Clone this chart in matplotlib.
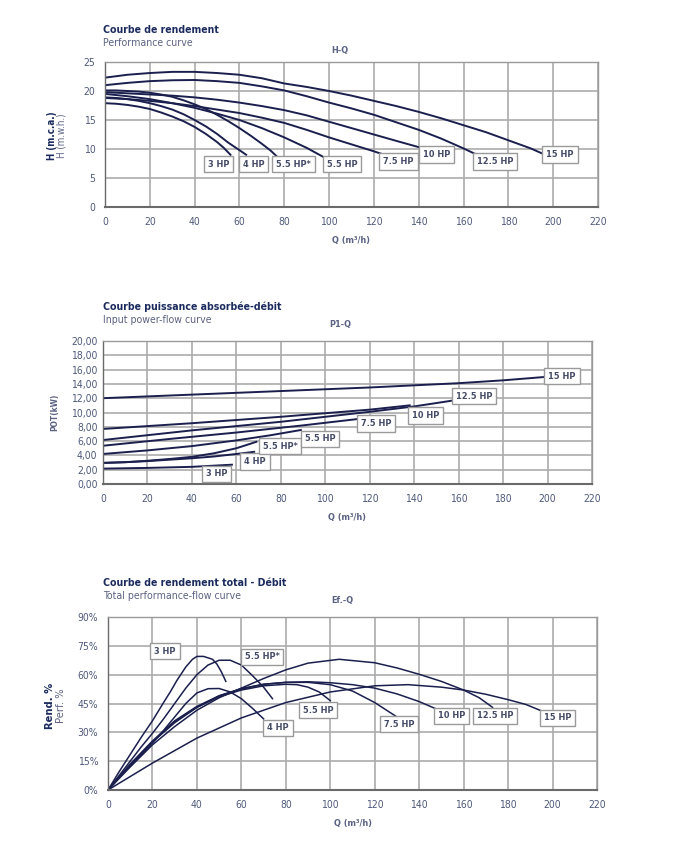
import matplotlib
matplotlib.use("Agg")
import matplotlib.pyplot as plt
from matplotlib.ticker import FuncFormatter, MultipleLocator

# ============================================================
# DATA
# ============================================================

# H-Q curves: flow Q (m3/h) -> head H (m)
hq_3hp_q = [0, 5, 10, 15, 20, 25, 30, 35, 40, 45, 50, 53, 56]
hq_3hp_h = [17.9, 17.8, 17.6, 17.3, 16.9, 16.3, 15.6, 14.8, 13.8, 12.6, 11.2, 10.2, 9.0]
hq_4hp_q = [0, 5, 10, 15, 20, 25, 30, 35, 40, 45, 50, 55, 60, 63]
hq_4hp_h = [18.9, 18.8, 18.6, 18.3, 17.9, 17.4, 16.8, 16.0, 15.0, 13.9, 12.6, 11.1, 9.8, 9.0]
hq_55s_q = [0, 5, 10, 15, 20, 25, 30, 35, 40, 45, 50, 55, 60, 65, 70, 74, 77]
hq_55s_h = [20.1, 20.1, 20.0, 19.9, 19.7, 19.4, 19.0, 18.4, 17.7, 16.9, 15.9, 14.8, 13.6, 12.3, 10.9, 9.7, 8.6]
hq_55_q = [0, 10, 20, 30, 40, 50, 60, 70, 80, 90, 99]
hq_55_h = [19.5, 19.1, 18.6, 17.9, 17.1, 16.1, 15.0, 13.6, 12.0, 10.2, 8.3]
hq_75_q = [0, 10, 20, 30, 40, 50, 60, 70, 80, 90, 100, 110, 120, 127]
hq_75_h = [18.8, 18.6, 18.3, 17.9, 17.4, 16.8, 16.2, 15.4, 14.5, 13.3, 12.0, 10.8, 9.6, 8.7]
hq_10_q = [0, 10, 20, 30, 40, 50, 60, 70, 80, 90, 100, 110, 120, 130, 143]
hq_10_h = [19.8, 19.6, 19.4, 19.2, 18.9, 18.5, 18.0, 17.4, 16.7, 15.8, 14.7, 13.6, 12.5, 11.4, 10.0]
hq_125_q = [0, 10, 20, 30, 40, 50, 60, 70, 80, 90, 100, 110, 120, 130, 140, 150, 160, 166]
hq_125_h = [21.0, 21.4, 21.7, 21.85, 21.9, 21.7, 21.4, 20.8, 20.1, 19.1, 18.0, 17.0, 15.9,
            14.6, 13.3, 11.8, 10.1, 9.0]
hq_15_q = [0, 10, 20, 30, 40, 50, 60, 70, 80, 90, 100, 110, 120, 130, 140, 150, 160, 170,
           180, 190, 197]
hq_15_h = [22.3, 22.8, 23.1, 23.3, 23.3, 23.1, 22.8, 22.2, 21.3, 20.7, 20.0, 19.2, 18.3,
           17.4, 16.4, 15.3, 14.1, 12.9, 11.5, 10.1, 8.9]

# P1-Q curves: flow Q -> input power (kW)
pq_3hp_q = [0, 20, 40, 58]
pq_3hp_p = [2.15, 2.25, 2.4, 2.7]
pq_4hp_q = [0, 10, 20, 30, 40, 50, 60, 68]
pq_4hp_p = [2.95, 3.05, 3.2, 3.4, 3.6, 3.85, 4.2, 4.5]
pq_55s_q = [0, 10, 20, 30, 40, 50, 60, 69]
pq_55s_p = [2.95, 3.05, 3.25, 3.5, 3.8, 4.3, 5.0, 5.9]
pq_55_q = [0, 20, 40, 60, 75, 89]
pq_55_p = [4.2, 4.7, 5.3, 6.1, 6.8, 7.55]
pq_75_q = [0, 30, 60, 90, 115]
pq_75_p = [5.35, 6.3, 7.2, 8.2, 9.1]
pq_10_q = [0, 40, 80, 120, 138]
pq_10_p = [7.7, 8.5, 9.4, 10.4, 11.0]
pq_125_q = [0, 40, 80, 120, 140, 159]
pq_125_p = [6.15, 7.5, 8.7, 10.1, 10.85, 11.75]
pq_15_q = [0, 40, 80, 120, 160, 180, 200]
pq_15_p = [12.0, 12.5, 13.0, 13.5, 14.1, 14.5, 15.0]

# Ef-Q curves: flow Q -> efficiency (%)
eq_3hp_q = [0, 5, 10, 15, 20, 25, 28, 31, 35, 38, 40, 43, 47, 49, 51, 53]
eq_3hp_e = [0, 9.5, 18.5, 27.5, 36, 45.5, 51, 57, 64, 68, 69.5, 69.5, 68, 65.5, 61.5, 56.5]
eq_55s_q = [0, 5, 10, 15, 20, 25, 30, 35, 40, 45, 50, 55, 60, 65, 70, 74]
eq_55s_e = [0, 7.5, 15, 22.5, 29.5, 37, 45, 53, 60, 65, 67.5, 67.5, 65, 59.5, 53.5, 47.5]
eq_4hp_q = [0, 5, 10, 15, 20, 25, 30, 35, 40, 45, 50, 55, 60, 65, 70]
eq_4hp_e = [0, 6.3, 12.5, 18.5, 24.5, 31, 38, 45, 50.5, 52.7, 52.8, 51, 47.5, 42.5, 37]
eq_55_q = [0, 10, 20, 30, 40, 50, 60, 70, 80, 85, 90, 95, 100]
eq_55_e = [0, 13, 25, 35.5, 43, 48.5, 52, 54.2, 55, 54.8, 53.5, 51, 46.5]
eq_75_q = [0, 10, 20, 30, 40, 50, 60, 70, 80, 90, 100, 110, 120, 130]
eq_75_e = [0, 13.5, 25.5, 36, 43.5, 49, 52.8, 55, 56, 56, 54.8, 51.5, 45.5, 38]
eq_10_q = [0, 10, 20, 30, 40, 50, 60, 70, 80, 90, 100, 110, 120, 130, 140, 148]
eq_10_e = [0, 13, 25, 35, 43, 49, 52.5, 55, 56, 56.3, 55.8, 54.8, 53, 50, 46, 42]
eq_125_q = [0, 10, 20, 30, 40, 50, 60, 70, 80, 90, 104, 120, 130, 140, 150, 160, 167, 173]
eq_125_e = [0, 12, 23.5, 33, 41.5, 48, 53, 58, 62.5, 66, 68, 66.2, 63.5, 60.2, 56.5, 52,
            48, 43]
eq_15_q = [0, 20, 40, 60, 80, 100, 120, 135, 150, 160, 170, 180, 188, 196]
eq_15_e = [0, 14, 27, 37.5, 45.5, 51, 54.2, 54.8, 53.5, 52, 49.8, 47, 44.5, 40.7]

# label boxes: (text, Q, value)
hq_labels = [("3 HP", 50.6, 7.4), ("4 HP", 66.3, 7.4), ("5.5 HP*", 84.2, 7.4),
             ("5.5 HP", 105.7, 7.4), ("7.5 HP", 131, 7.9), ("10 HP", 148, 9.1),
             ("12.5 HP", 174, 7.9), ("15 HP", 203, 9.1)]
pq_labels = [("3 HP", 51, 1.4), ("4 HP", 68.4, 3.1), ("5.5 HP*", 79.6, 5.3),
             ("5.5 HP", 97.6, 6.3), ("7.5 HP", 123, 8.5), ("10 HP", 145, 9.6),
             ("12.5 HP", 167, 12.3), ("15 HP", 206.5, 15.1)]
eq_labels = [("3 HP", 25.6, 72.3), ("5.5 HP*", 69.3, 69.2), ("4 HP", 76.5, 32.3),
             ("5.5 HP", 94.5, 41.6), ("7.5 HP", 131, 34.3), ("10 HP", 154.7, 38.5),
             ("12.5 HP", 174, 38.5), ("15 HP", 202.4, 37.5)]

# ============================================================
# STYLE
# ============================================================

plt.rcParams["font.family"] = ["DejaVu Sans"]
plt.rcParams["font.stretch"] = "condensed"

NAVY = "#1b1f4e"
TITLE_C = "#1c2b5e"
SUB_C = "#5b6282"
TICK_C = "#4f5a7a"
GRID_C = "#ababab"
BOX_TXT = "#454b66"

W, H = 700, 858
fig = plt.figure(figsize=(7.0, 8.58), dpi=100)


def px_axes(left, top, right, bottom):
    return fig.add_axes([left / W, 1 - bottom / H, (right - left) / W, (bottom - top) / H])


def style_axes(ax, ymax, ystep):
    ax.set_xlim(0, 220)
    ax.set_ylim(0, ymax)
    ax.xaxis.set_major_locator(MultipleLocator(20))
    ax.yaxis.set_major_locator(MultipleLocator(ystep))
    ax.grid(True, color=GRID_C, linewidth=1.2)
    ax.set_axisbelow(True)
    for s in ax.spines.values():
        s.set_color("#9a9a9a")
        s.set_linewidth(1.0)
    ax.spines["bottom"].set_color("#6a6a6a")
    ax.spines["bottom"].set_linewidth(1.5)
    ax.spines["left"].set_color("#6a6a6a")
    ax.tick_params(length=0, labelsize=7.5, labelcolor=TICK_C, pad=7)


def titles(y_title, text1, text2, small, small_x, small_y):
    fig.text(103 / W, 1 - y_title / H, text1, fontsize=7.6, fontweight="bold",
             color=TITLE_C, va="center", ha="left")
    fig.text(103 / W, 1 - (y_title + 13) / H, text2, fontsize=7.6,
             color=SUB_C, va="center", ha="left")
    fig.text(small_x / W, 1 - small_y / H, small, fontsize=6.5, fontweight="bold",
             color=SUB_C, va="center", ha="center")


def label_boxes(ax, labels):
    for txt, x, y in labels:
        ax.text(x, y, txt, fontsize=6.6, fontweight="bold", color=BOX_TXT,
                ha="center", va="center", clip_on=False,
                bbox=dict(boxstyle="square,pad=0.42", fc="white", ec="#9a9a9a", lw=1.0))


# ============================================================
# CHART 1: H-Q
# ============================================================

ax1 = px_axes(105, 62, 598, 207)
style_axes(ax1, 25, 5)
for q, h in [(hq_3hp_q, hq_3hp_h), (hq_4hp_q, hq_4hp_h), (hq_55s_q, hq_55s_h),
             (hq_55_q, hq_55_h), (hq_75_q, hq_75_h), (hq_10_q, hq_10_h),
             (hq_125_q, hq_125_h), (hq_15_q, hq_15_h)]:
    ax1.plot(q, h, color=NAVY, linewidth=1.4)
label_boxes(ax1, hq_labels)
ax1.set_xlabel("Q (m³/h)", fontsize=6.5, fontweight="bold", color=SUB_C, labelpad=7)
titles(30, "Courbe de rendement", "Performance curve", "H-Q", 340, 50)
fig.text(52 / W, 1 - 136 / H, "H (m.c.a.)", rotation=90, fontsize=7, fontweight="bold",
         color=TITLE_C, ha="center", va="center")
fig.text(62 / W, 1 - 136 / H, "H (m.w.h.)", rotation=90, fontsize=7,
         color=SUB_C, ha="center", va="center")

# ============================================================
# CHART 2: P1-Q
# ============================================================

ax2 = px_axes(103, 341, 592, 484)
style_axes(ax2, 20, 2)
ax2.yaxis.set_major_formatter(FuncFormatter(lambda v, p: f"{v:.2f}".replace(".", ",")))
for q, p in [(pq_3hp_q, pq_3hp_p), (pq_4hp_q, pq_4hp_p), (pq_55s_q, pq_55s_p),
             (pq_55_q, pq_55_p), (pq_75_q, pq_75_p), (pq_10_q, pq_10_p),
             (pq_125_q, pq_125_p), (pq_15_q, pq_15_p)]:
    ax2.plot(q, p, color=NAVY, linewidth=1.4)
label_boxes(ax2, pq_labels)
ax2.tick_params(axis="y", pad=4)
ax2.set_xlabel("Q (m³/h)", fontsize=6.5, fontweight="bold", color=SUB_C, labelpad=7)
titles(307, "Courbe puissance absorbée-débit", "Input power-flow curve", "P1-Q", 340, 325)
fig.text(55 / W, 1 - 412 / H, "POT(kW)", rotation=90, fontsize=6, fontweight="bold",
         color=SUB_C, ha="center", va="center")

# ============================================================
# CHART 3: Ef-Q
# ============================================================

ax3 = px_axes(108, 617, 597, 790)
style_axes(ax3, 90, 15)
ax3.yaxis.set_major_formatter(FuncFormatter(lambda v, p: f"{v:.0f}%"))
for q, e in [(eq_3hp_q, eq_3hp_e), (eq_55s_q, eq_55s_e), (eq_4hp_q, eq_4hp_e),
             (eq_55_q, eq_55_e), (eq_75_q, eq_75_e), (eq_10_q, eq_10_e),
             (eq_125_q, eq_125_e), (eq_15_q, eq_15_e)]:
    ax3.plot(q, e, color=NAVY, linewidth=1.1)
label_boxes(ax3, eq_labels)
ax3.set_xlabel("Q (m³/h)", fontsize=6.5, fontweight="bold", color=SUB_C, labelpad=7)
titles(583, "Courbe de rendement total - Débit", "Total performance-flow curve", "Ef.-Q", 342, 601)
fig.text(50 / W, 1 - 706 / H, "Rend. %", rotation=90, fontsize=8, fontweight="bold",
         color=TITLE_C, ha="center", va="center")
fig.text(61 / W, 1 - 706 / H, "Perf. %", rotation=90, fontsize=8,
         color=SUB_C, ha="center", va="center")

fig.savefig("out.png", dpi=100, facecolor="white")
